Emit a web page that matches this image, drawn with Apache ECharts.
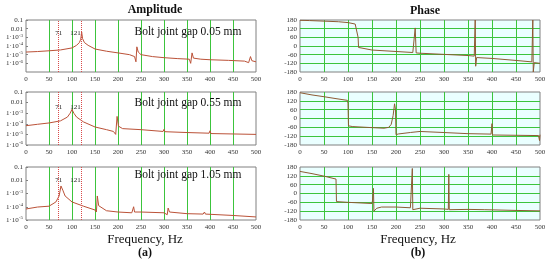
<!DOCTYPE html>
<html>
<head>
<meta charset="utf-8">
<script src="https://cdn.jsdelivr.net/npm/echarts@6/dist/echarts.min.js"></script>
<style>
  html, body { margin: 0; padding: 0; background: #fff; }
  #chart { width: 550px; height: 268px; }
</style>
</head>
<body>
<div id="chart"></div>
<script>
// frequency ticks shared by all panels
const freqTicks = [0, 50, 100, 150, 200, 250, 300, 350, 400, 450, 500];
const phaseTicks = [-180, -120, -60, 0, 60, 120, 180];
const gapLabels = ['Bolt joint gap 0.05 mm', 'Bolt joint gap 0.55 mm', 'Bolt joint gap 1.05 mm'];
const markFreqs = [71, 121];

// amplitude, gap 0.05 mm
const ampFreq1 = [0, 25, 50, 75, 100, 110, 116, 119, 121, 123, 127, 135, 150, 175, 200, 225, 236, 239, 241, 244, 250, 275, 300, 330, 355, 358, 361, 364, 380, 400, 440, 475, 484, 488, 491, 500];
const ampVal1 = [2e-5, 2.3e-5, 2.8e-5, 3.5e-5, 6e-5, 1.2e-4, 2.5e-4, 6e-4, 4e-3, 7e-4, 2.5e-4, 1.2e-4, 4.5e-5, 2.5e-5, 1.6e-5, 1e-5, 6e-6, 1.5e-6, 8e-5, 2e-5, 1e-5, 6e-6, 4.5e-6, 3.5e-6, 3e-6, 1e-6, 1.6e-5, 4e-6, 3e-6, 2.6e-6, 2.2e-6, 1.8e-6, 1.2e-6, 6e-6, 2e-6, 1.5e-6];

// amplitude, gap 0.55 mm
const ampFreq2 = [0, 25, 50, 75, 90, 96, 100, 104, 110, 125, 150, 175, 190, 195, 198, 201, 210, 250, 298, 300, 302, 350, 398, 400, 402, 450, 500];
const ampVal2 = [6.6e-5, 9e-5, 1.2e-4, 1.9e-4, 4.3e-4, 1e-3, 2.3e-3, 1e-3, 4.3e-4, 1.5e-4, 5e-5, 2.8e-5, 1.9e-5, 1e-5, 5e-4, 6e-5, 3.5e-5, 2.8e-5, 1.9e-5, 3e-5, 1.8e-5, 1.5e-5, 1.3e-5, 2.2e-5, 1.2e-5, 1.1e-5, 1e-5];

// amplitude, gap 1.05 mm
const ampFreq3 = [0, 25, 50, 65, 72, 76, 78, 80, 85, 100, 125, 150, 153, 155, 158, 175, 200, 230, 232, 234, 236, 250, 300, 307, 309, 312, 350, 385, 388, 390, 450, 500];
const ampVal3 = [6.8e-5, 9.5e-5, 1.1e-4, 2.3e-4, 6.5e-4, 3.7e-3, 4.4e-3, 1.8e-3, 6.5e-4, 2.3e-4, 1.1e-4, 5.7e-5, 4e-5, 6.5e-4, 1.2e-4, 5e-5, 4e-5, 3.5e-5, 2.5e-5, 1e-4, 4e-5, 4e-5, 3.5e-5, 2.5e-5, 8e-5, 4e-5, 3e-5, 2.8e-5, 4e-5, 2.8e-5, 2.2e-5, 1.7e-5];

// phase, gap 0.05 mm
const phFreq1 = [0, 20, 50, 80, 100, 115, 119, 121, 122, 125, 150, 200, 235, 238, 240, 242, 250, 300, 350, 363, 365, 366, 368, 400, 450, 483, 485, 486, 488, 500];
const phVal1 = [178, 176, 172, 168, 162, 152, 140, 60, -10, -18, -28, -38, -45, -40, 125, -48, -50, -58, -66, -70, 180, -140, -80, -86, -100, -110, 180, -180, -115, -120];

// phase, gap 0.55 mm
const phFreq2 = [0, 25, 50, 75, 99, 100, 101, 110, 150, 175, 185, 190, 194, 197, 199, 200, 205, 230, 250, 298, 300, 302, 350, 398, 400, 401, 450, 497, 499, 500];
const phVal2 = [175, 160, 148, 135, 123, 100, -50, -55, -62, -66, -60, -40, 20, 100, 60, -110, -105, -95, -88, -95, -85, -100, -103, -106, -35, -112, -114, -116, -150, -110];

// phase, gap 1.05 mm
const phFreq3 = [0, 25, 50, 75, 76, 100, 150, 151, 153, 154, 157, 160, 170, 200, 230, 233, 234, 235, 250, 300, 309, 310, 311, 350, 385, 387, 389, 450, 500];
const phVal3 = [150, 135, 118, 98, -55, -60, -68, -50, 35, -120, -130, -100, -92, -92, -97, -100, 170, -110, -100, -105, -108, 130, -110, -108, -110, -100, -115, -115, -118];

const ampMin = [1e-7, 1e-6, 1e-5];
const markLabelAt = [3e-3, 4e-3, 1e-2];

const zip = (xs, ys) => xs.map((x, i) => [x, ys[i]]);

const FONT = 'Liberation Serif';
const GREEN = '#3cc43c';
const rows = [{ top: 20, height: 52 }, { top: 92, height: 53 }, { top: 167, height: 53 }];
const ampData = [zip(ampFreq1, ampVal1), zip(ampFreq2, ampVal2), zip(ampFreq3, ampVal3)];
const phData = [zip(phFreq1, phVal1), zip(phFreq2, phVal2), zip(phFreq3, phVal3)];

const grids = [], xAxes = [], yAxes = [], series = [];

function logLabel(v) {
  const e = Math.round(Math.log10(v));
  if (e === -1) return '0.1';
  if (e === -2) return '0.01';
  return '1·10{s|' + e + '}';
}

rows.forEach((r, i) => {
  // amplitude panel
  grids.push({ left: 26, width: 230, top: r.top, height: r.height, show: true,
    borderColor: '#808080', borderWidth: 1, backgroundColor: '#fff' });
  // phase panel
  grids.push({ left: 300, width: 240, top: r.top, height: r.height, show: true,
    borderColor: '#808080', borderWidth: 1, backgroundColor: '#eaffff' });

  [0, 1].forEach(k => {
    const gi = i * 2 + k;
    xAxes.push({
      type: 'value', gridIndex: gi, min: freqTicks[0], max: freqTicks[freqTicks.length - 1], interval: 50,
      axisLine: { show: false }, axisTick: { show: false },
      axisLabel: { fontFamily: FONT, fontSize: 7, color: '#333', margin: 4 },
      splitLine: { show: true, showMinLine: false, showMaxLine: false, lineStyle: { color: GREEN, width: 1 } }
    });
  });

  yAxes.push({
    type: 'log', logBase: 10, gridIndex: i * 2, min: ampMin[i], max: 0.1, interval: 1,
    axisLine: { show: false },
    axisTick: { show: true, length: 2, inside: true, lineStyle: { color: '#808080' } },
    axisLabel: { fontFamily: FONT, fontSize: 7, color: '#333', margin: 3, formatter: logLabel,
      rich: { s: { fontFamily: FONT, fontSize: 5, verticalAlign: 'top', lineHeight: 9, padding: [0, 0, 4, 0] } } },
    splitLine: { show: false }
  });
  yAxes.push({
    type: 'value', gridIndex: i * 2 + 1, min: phaseTicks[0], max: phaseTicks[phaseTicks.length - 1], interval: 60,
    axisLine: { show: false }, axisTick: { show: false },
    axisLabel: { fontFamily: FONT, fontSize: 7, color: '#333', margin: 3 },
    splitLine: { show: true, showMinLine: false, showMaxLine: false, lineStyle: { color: GREEN, width: 1 } }
  });

  series.push({
    type: 'line', xAxisIndex: i * 2, yAxisIndex: i * 2, data: ampData[i],
    showSymbol: false, symbol: 'none', lineStyle: { color: '#bb5238', width: 1 },
    markLine: {
      silent: true, symbol: 'none',
      lineStyle: { color: '#d94a4a', type: 'dotted', width: 1 },
      label: { show: false },
      data: markFreqs.map(f => ({ xAxis: f }))
    },
    markPoint: {
      symbol: 'circle', symbolSize: 0,
      label: { show: true, fontFamily: FONT, fontSize: 7, color: '#222' },
      data: markFreqs.map((f, j) => ({
        coord: [f, markLabelAt[i]],
        label: { formatter: String(f), position: j === 0 ? 'inside' : 'left', distance: 1 }
      }))
    }
  });
  series.push({
    type: 'line', xAxisIndex: i * 2 + 1, yAxisIndex: i * 2 + 1, data: phData[i],
    showSymbol: false, symbol: 'none', lineStyle: { color: '#8e5a34', width: 1 }
  });
});

const texts = [
  { x: 155, y: 10, text: 'Amplitude', font: 'bold 12px ' + FONT },
  { x: 425, y: 11, text: 'Phase', font: 'bold 12px ' + FONT },
  { x: 145, y: 240, text: 'Frequency, Hz', font: '13px ' + FONT },
  { x: 418, y: 240, text: 'Frequency, Hz', font: '13px ' + FONT },
  { x: 145, y: 253, text: '(a)', font: 'bold 12px ' + FONT },
  { x: 418, y: 253, text: '(b)', font: 'bold 12px ' + FONT }
];
const gapY = [32, 103, 175];
gapLabels.forEach((t, i) => texts.push({ x: 188, y: gapY[i], text: t, font: '11.5px ' + FONT }));

const chart = echarts.init(document.getElementById('chart'), null, { renderer: 'canvas' });
chart.setOption({
  animation: false,
  backgroundColor: '#fff',
  grid: grids,
  xAxis: xAxes,
  yAxis: yAxes,
  series: series,
  graphic: texts.map(t => ({
    type: 'text', x: t.x, y: t.y, z: 100,
    style: { text: t.text, font: t.font, fill: '#111', textAlign: 'center', textVerticalAlign: 'middle' }
  }))
});
</script>
</body>
</html>
